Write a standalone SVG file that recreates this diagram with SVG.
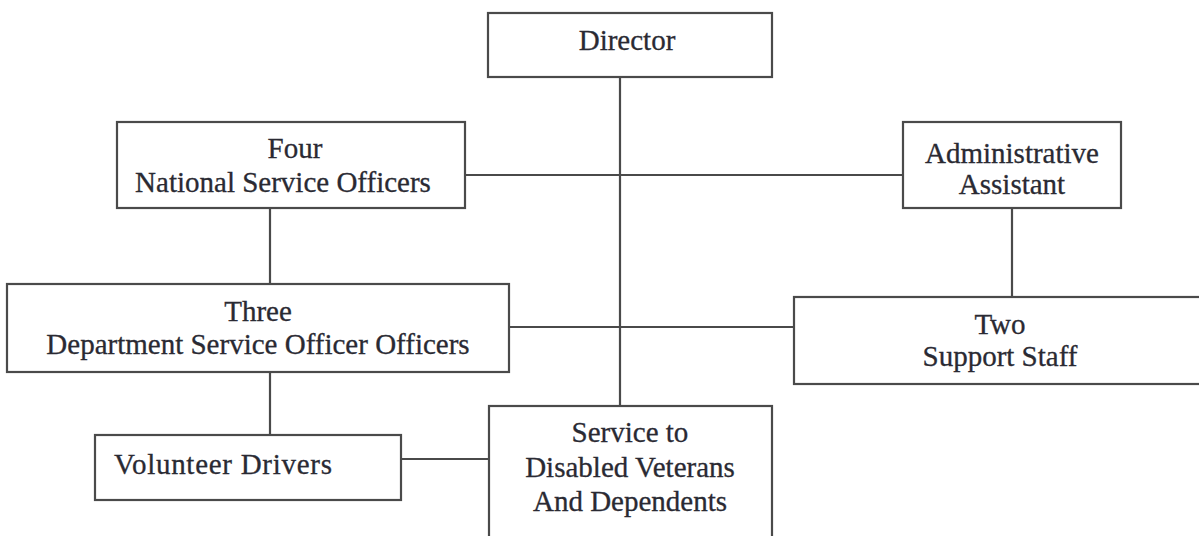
<svg xmlns="http://www.w3.org/2000/svg" width="1199" height="536" viewBox="0 0 1199 536">
<style>
.box{fill:#ffffff;stroke:#4a4a4a;stroke-width:2.2}
.ln{stroke:#4a4a4a;stroke-width:2.2;fill:none}
text{font-family:"Liberation Serif","Times New Roman",serif;font-size:29px;fill:#2a2a33;text-anchor:middle;stroke:#2a2a33;stroke-width:0.3}
</style>
<rect width="1199" height="536" fill="#ffffff"/>
<g id="connectors">
<line class="ln" x1="620" y1="77" x2="620" y2="406"/>
<line class="ln" x1="465" y1="175" x2="903" y2="175"/>
<line class="ln" x1="270" y1="208" x2="270" y2="284"/>
<line class="ln" x1="509" y1="327" x2="794" y2="327"/>
<line class="ln" x1="1012" y1="208" x2="1012" y2="297"/>
<line class="ln" x1="270" y1="372" x2="270" y2="435"/>
<line class="ln" x1="401" y1="459" x2="489" y2="459"/>
</g>
<g id="director">
<rect class="box" x="488" y="13" width="284" height="64"/>
<text x="627" y="50">Director</text>
</g>
<g id="national">
<rect class="box" x="117" y="122" width="348" height="86"/>
<text x="295" y="158">Four</text>
<text x="283" y="192">National Service Officers</text>
</g>
<g id="admin">
<rect class="box" x="903" y="122" width="218" height="86"/>
<text x="1012" y="163">Administrative</text>
<text x="1012" y="194">Assistant</text>
</g>
<g id="department">
<rect class="box" x="7" y="284" width="502" height="88"/>
<text x="258" y="321">Three</text>
<text x="258" y="354">Department Service Officer Officers</text>
</g>
<g id="support">
<rect class="box" x="794" y="297" width="420" height="87"/>
<text x="1000" y="334">Two</text>
<text x="1000" y="366">Support Staff</text>
</g>
<g id="volunteer">
<rect class="box" x="95" y="435" width="306" height="65"/>
<text x="114" y="474" style="text-anchor:start" textLength="218" lengthAdjust="spacing">Volunteer Drivers</text>
</g>
<g id="service">
<rect class="box" x="489" y="406" width="283" height="140"/>
<text x="630" y="442">Service to</text>
<text x="630" y="477">Disabled Veterans</text>
<text x="630" y="511">And Dependents</text>
</g>
</svg>
